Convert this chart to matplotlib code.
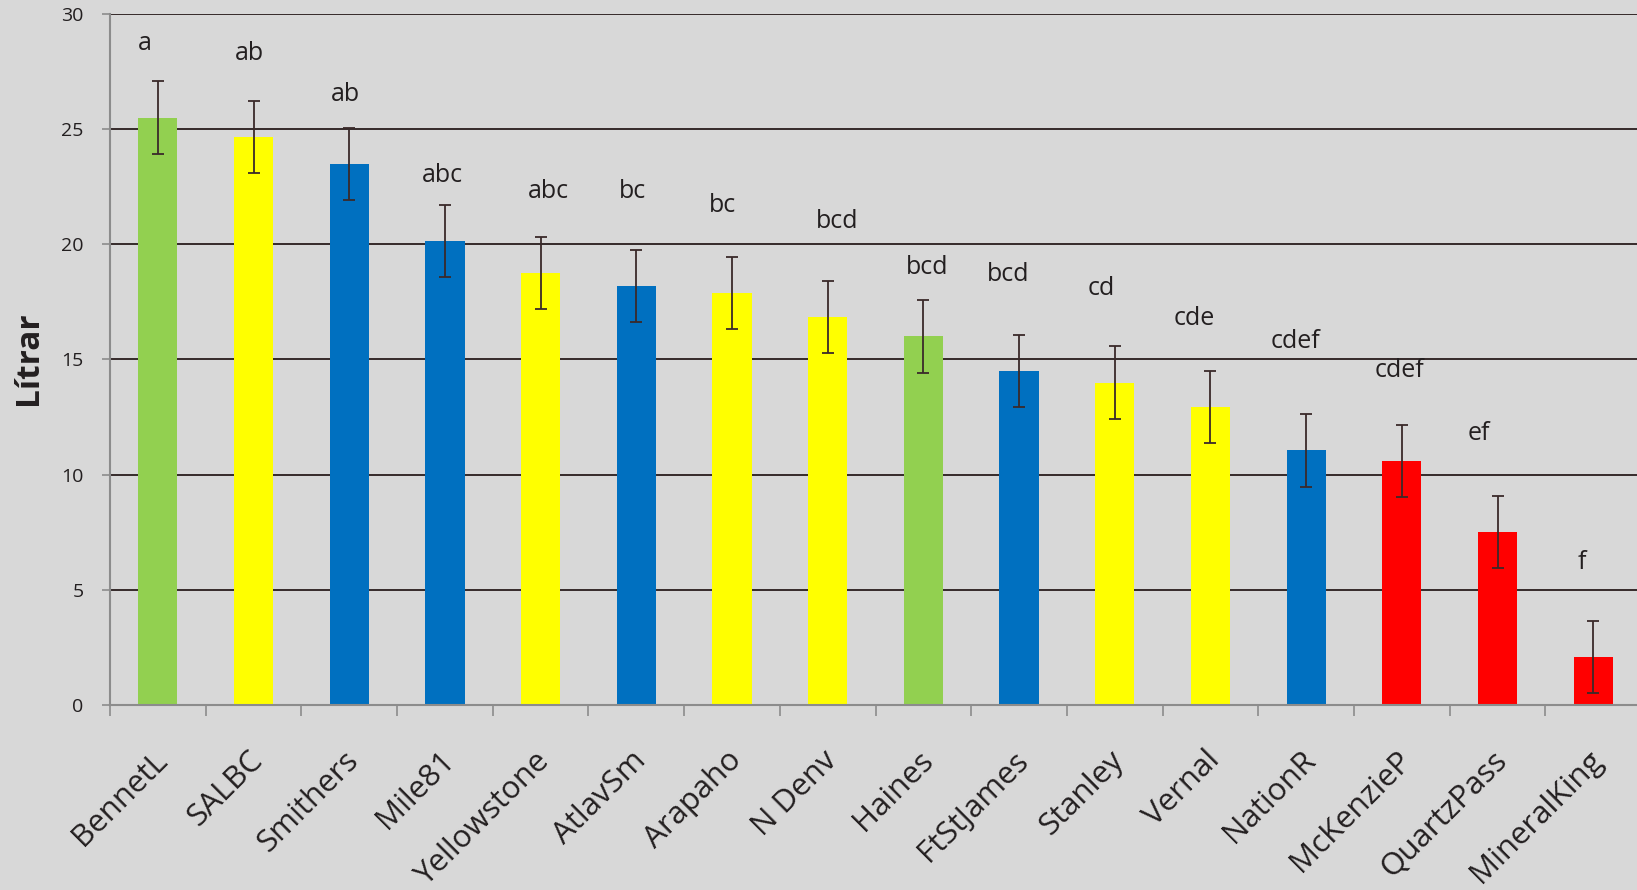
import numpy as np
import matplotlib
matplotlib.use("Agg")
from matplotlib import pyplot as plt
from matplotlib.transforms import ScaledTranslation

# data
sites = ['BennetL', 'SALBC', 'Smithers', 'Mile81', 'Yellowstone', 'AtlavSm', 'Arapaho', 'N Denv',
         'Haines', 'FtStJames', 'Stanley', 'Vernal', 'NationR', 'McKenzieP', 'QuartzPass', 'MineralKing']
litres = [25.5, 24.65, 23.5, 20.15, 18.75, 18.2, 17.9, 16.85,
          16.0, 14.5, 14.0, 12.95, 11.05, 10.6, 7.5, 2.08]
errors = [1.58, 1.57, 1.57, 1.57, 1.57, 1.57, 1.57, 1.57,
          1.57, 1.57, 1.57, 1.57, 1.57, 1.57, 1.57, 1.58]
groups = ['green', 'yellow', 'blue', 'blue', 'yellow', 'blue', 'yellow', 'yellow',
          'green', 'blue', 'yellow', 'yellow', 'blue', 'red', 'red', 'red']
letters = ['a', 'ab', 'ab', 'abc', 'abc', 'bc', 'bc', 'bcd',
           'bcd', 'bcd', 'cd', 'cde', 'cdef', 'cdef', 'ef', 'f']
letter_y = [28.7, 28.3, 26.5, 23.0, 22.3, 22.3, 21.7, 21.0,
            19.0, 18.7, 18.1, 16.8, 15.8, 14.5, 11.8, 6.2]
letter_dx = [-0.14, -0.04, -0.04, -0.03, 0.08, -0.04, -0.1, 0.1,
             0.04, -0.11, -0.14, -0.17, -0.11, -0.02, -0.19, -0.12]

palette = {'green': '#92d050', 'yellow': '#ffff00', 'blue': '#0070c0', 'red': '#ff0000'}
text_color = '#231f20'
bg = '#d8d8d8'

plt.rcParams['font.family'] = ['Open Sans', 'DejaVu Sans']

fig = plt.figure(figsize=(16.37, 8.9), dpi=100)
fig.patch.set_facecolor(bg)
ax = fig.add_axes([0.0672, 0.2079, 0.9353, 0.7764])
ax.set_facecolor('none')

x = np.arange(len(sites))
ax.bar(x, litres, width=0.41, color=[palette[g] for g in groups], zorder=3)
ax.errorbar(x, litres, yerr=errors, fmt='none', ecolor='#3a2a2a', elinewidth=1.3,
            capsize=4, capthick=1.3, zorder=4)

for i, (lab, ly, dx) in enumerate(zip(letters, letter_y, letter_dx)):
    ax.text(i + dx, ly, lab, ha='center', va='center', fontsize=18, color=text_color)

ax.set_xlim(-0.5, len(sites) - 0.5)
ax.set_ylim(0, 30)
ax.set_yticks(range(0, 31, 5))
ax.yaxis.grid(True, color='#352a2a', linewidth=1.4, zorder=1)
ax.set_axisbelow(True)

for side in ['top', 'right']:
    ax.spines[side].set_visible(False)
for side in ['left', 'bottom']:
    ax.spines[side].set_color('#8c8c8c')
    ax.spines[side].set_linewidth(1.5)
    ax.spines[side].set_zorder(5)

ax.tick_params(axis='y', direction='out', length=6, width=1.2, color='#8c8c8c',
               pad=13, labelsize=14, labelcolor=text_color)

# category boundary ticks, labels without ticks at the centers
ax.set_xticks(np.arange(-0.5, len(sites), 1.0), minor=True)
ax.tick_params(axis='x', which='minor', direction='out', length=8, width=1.2, color='#8c8c8c')
ax.set_xticks(x)
ax.set_xticklabels(sites, rotation=45, ha='right', va='top', rotation_mode='anchor',
                   fontsize=22.5, color=text_color)
ax.tick_params(axis='x', which='major', length=0, pad=29)
shift = ScaledTranslation(-4 / 72, 0, fig.dpi_scale_trans)
for lbl in ax.get_xticklabels():
    lbl.set_transform(lbl.get_transform() + shift)

fig.text(0.0177, 0.598, 'Lítrar', rotation=90, ha='center', va='center',
         fontsize=24, fontweight='bold', color=text_color)

fig.savefig('out.png', dpi=100, facecolor=fig.get_facecolor())
